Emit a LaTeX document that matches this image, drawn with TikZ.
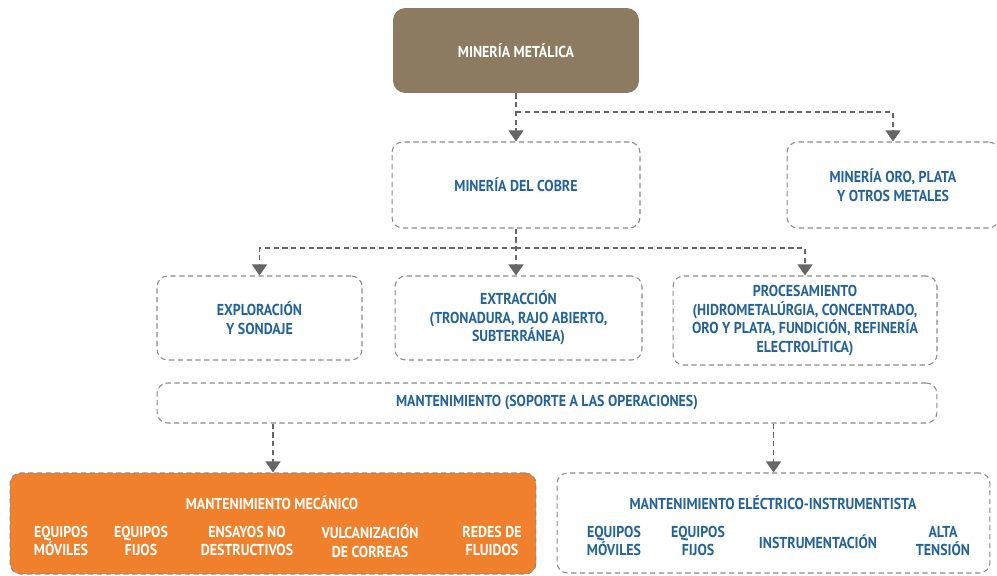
\documentclass[tikz,border=0pt]{standalone}
\usepackage{fontspec}
\setsansfont{PT Sans}[FakeStretch=0.88]
\usetikzlibrary{arrows.meta}

\definecolor{minbrown}{HTML}{8C7B61}
\definecolor{mecorange}{HTML}{F0802C}
\definecolor{boxblue}{HTML}{23639A}
\definecolor{linegray}{HTML}{8A8A8A}
\definecolor{arrowgray}{HTML}{666666}

\begin{document}
\begin{tikzpicture}[x=0.02cm, y=-0.02cm]
        \useasboundingbox (0,0) rectangle (997,575);

        \begin{scope}[%
            every node/.style = {%
                align = center,
                inner sep = 0pt,
                font = \sffamily\bfseries\fontsize{9}{10.6}\selectfont,
                text = boxblue
            },
            box/.style = {%
                draw = linegray,
                line width = 0.6pt,
                dash pattern = on 3pt off 2pt,
                rounded corners = 6pt
            }
        ]

            % Boxes of the chart.
            \node (met) [fill = minbrown, rounded corners = 7pt, text = white,
                minimum width = 4.92cm, minimum height = 1.7cm] at (516, 50.5) {MINERÍA METÁLICA};
            \node (cobre) [box, minimum width = 4.96cm, minimum height = 1.72cm]
                at (516, 185) {MINERÍA DEL COBRE};
            \node (oro) [box, minimum width = 4.24cm, minimum height = 1.72cm]
                at (893, 185) {MINERÍA ORO, PLATA\\Y OTROS METALES};
            \node (explo) [box, minimum width = 4.1cm, minimum height = 1.68cm]
                at (259.5, 318) {EXPLORACIÓN\\Y SONDAJE};
            \node (extrac) [box, minimum width = 4.94cm, minimum height = 1.68cm]
                at (518.5, 318) {EXTRACCIÓN\\(TRONADURA, RAJO ABIERTO,\\SUBTERRÁNEA)};
            \node (proc) [box, minimum width = 5.28cm, minimum height = 1.78cm]
                at (805, 320.5) {PROCESAMIENTO\\(HIDROMETALÚRGIA, CONCENTRADO,\\ORO Y PLATA, FUNDICIÓN, REFINERÍA\\ELECTROLÍTICA)};
            \node (mant) [box, minimum width = 15.6cm, minimum height = 0.8cm]
                at (547, 403) {MANTENIMIENTO (SOPORTE A LAS OPERACIONES)};
            \node (mec) [box, fill = mecorange, minimum width = 10.52cm, minimum height = 2.02cm]
                at (273, 523.5) {};
            \node (elec) [box, minimum width = 8.66cm, minimum height = 2cm]
                at (773.5, 523) {};

            % Texts inside the maintenance boxes.
            \node (mectit) [text = white] at (272, 503) {MANTENIMIENTO MECÁNICO};
            \node (mec1) [text = white] at (61, 541) {EQUIPOS\\MÓVILES};
            \node (mec2) [text = white] at (141, 541) {EQUIPOS\\FIJOS};
            \node (mec3) [text = white] at (247, 541) {ENSAYOS NO\\DESTRUCTIVOS};
            \node (mec4) [text = white] at (370, 541) {VULCANIZACIÓN\\DE CORREAS};
            \node (mec5) [text = white] at (492, 541) {REDES DE\\FLUIDOS};

            \node (electit) at (773, 503) {MANTENIMIENTO ELÉCTRICO-INSTRUMENTISTA};
            \node (elec1) at (614, 541) {EQUIPOS\\MÓVILES};
            \node (elec2) at (698, 541) {EQUIPOS\\FIJOS};
            \node (elec3) at (818, 542) {INSTRUMENTACIÓN};
            \node (elec4) at (943, 541) {ALTA\\TENSIÓN};
        \end{scope}

        \begin{scope}[%
            every path/.style = {%
                draw = arrowgray,
                line width = 0.6pt,
                dash pattern = on 3pt off 2pt
            },
            > = {Triangle[width = 0.3cm, length = 0.22cm]}
        ]

            % Branch points.
            \coordinate (split1) at (516, 112);
            \coordinate (split2) at (516, 248);

            % Connectors of the chart.
            \path [->] (met.south) -- (cobre.north);
            \path [->] (split1) -| (oro.north);
            \path [->] (cobre.south) -- (cobre.south |- extrac.north);
            \path [->] (split2) -| (explo.north);
            \path [->] (split2) -| (proc.north);
            \path [->] (mec.north |- mant.south) -- (mec.north);
            \path [->] (elec.north |- mant.south) -- (elec.north);
        \end{scope}
    \end{tikzpicture}
\end{document}
